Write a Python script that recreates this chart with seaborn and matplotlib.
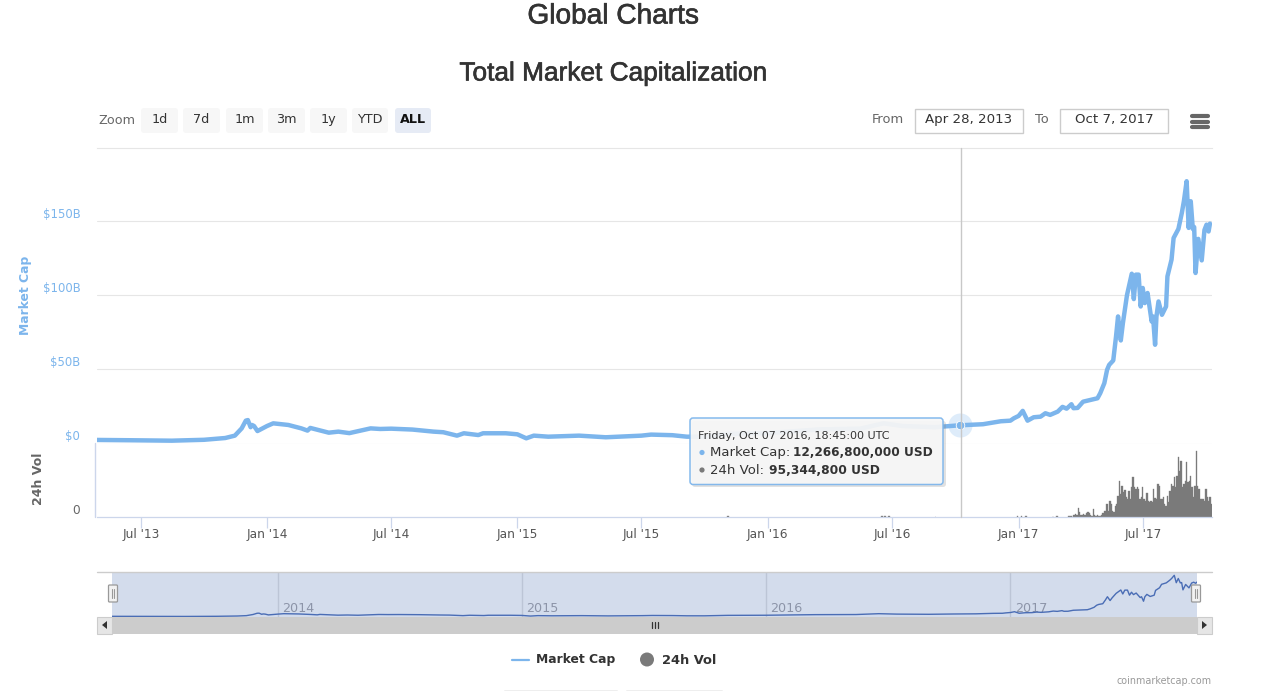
import numpy as np
import pandas as pd
import seaborn as sns
import matplotlib
matplotlib.use("Agg")
import matplotlib.pyplot as plt
import matplotlib.dates as mdates
import matplotlib.patheffects as pe
from matplotlib.patches import FancyBboxPatch, Rectangle, Circle

# ---------- data ----------
cap_dates = [
 "2013-04-28","2013-06-15","2013-08-15","2013-10-01","2013-11-01","2013-11-15","2013-11-25","2013-12-01",
 "2013-12-04","2013-12-08","2013-12-10","2013-12-13","2013-12-18","2014-01-01","2014-01-10","2014-02-01",
 "2014-02-20","2014-03-01","2014-03-05","2014-04-01","2014-04-15","2014-05-01","2014-06-01","2014-06-15",
 "2014-07-01","2014-08-01","2014-09-01","2014-09-15","2014-10-05","2014-10-15","2014-11-05","2014-11-12",
 "2014-12-15","2015-01-01","2015-01-14","2015-01-25","2015-02-15","2015-04-01","2015-05-10","2015-07-01",
 "2015-07-15","2015-08-15","2015-09-05","2015-10-01","2015-11-05","2016-01-01","2016-03-15","2016-05-15",
 "2016-06-18","2016-07-15","2016-09-01","2016-10-07","2016-11-10","2016-12-06","2016-12-20","2016-12-25",
 "2017-01-01","2017-01-07","2017-01-14","2017-01-23","2017-02-02","2017-02-09","2017-02-16","2017-02-27",
 "2017-03-06","2017-03-12","2017-03-19","2017-03-22","2017-03-28","2017-04-05","2017-04-26","2017-04-30",
 "2017-05-06","2017-05-10","2017-05-13","2017-05-19","2017-05-23","2017-05-26","2017-05-30","2017-06-02",
 "2017-06-08","2017-06-15","2017-06-18","2017-06-21","2017-06-25","2017-06-28","2017-07-01","2017-07-04",
 "2017-07-08","2017-07-14","2017-07-16","2017-07-19","2017-07-21","2017-07-24","2017-07-29","2017-08-04",
 "2017-08-06","2017-08-12","2017-08-15","2017-08-22","2017-08-27","2017-08-30","2017-09-03","2017-09-06",
 "2017-09-09","2017-09-12","2017-09-14","2017-09-16","2017-09-20","2017-09-25","2017-09-29","2017-10-02",
 "2017-10-05","2017-10-07"]
cap_values = [
 2.4,2.2,1.9,2.5,3.7,5.3,10.2,15.4,
 15.8,11.0,12.5,11.8,8.4,11.8,13.6,12.5,
 10.2,8.7,10.5,7.3,8.0,7.0,10.2,9.8,
 10.0,9.4,8.0,7.6,5.3,6.9,5.7,6.9,
 6.9,6.2,3.5,5.3,4.6,5.3,4.2,5.3,
 6.0,5.6,4.6,4.5,6.5,7.0,9.5,10.0,
 13.6,11.8,11.0,12.27,13.0,15.0,15.4,17.0,
 18.6,22.0,15.4,17.7,18.1,20.4,19.3,21.5,
 24.7,23.5,26.5,23.8,24.0,28.2,30.5,33.9,
 40.7,49.7,53.0,56.0,72.0,85.7,69.5,81.0,
 100.0,114.5,97.4,113.9,113.9,92.4,104.9,94.7,
 101.5,82.3,85.7,66.6,85.7,95.8,86.8,92.4,
 112.7,124.0,138.6,144.7,155.5,163.4,176.9,145.4,
 163.4,144.7,146.0,115.0,138.0,123.5,144.0,147.6,
 143.0,148.3]

vol_early_dates = ["2015-11-04","2016-06-16","2016-06-20","2016-06-26","2016-09-02","2016-12-30","2017-01-05","2017-01-12","2017-02-20","2017-02-26"]
vol_early_values = [0.15,0.2,0.3,0.2,0.1,0.2,0.3,0.25,0.1,0.2]
vol_values = [
 .3,.3,.2,.1,.5,.7,.5,1.9,1.0,.4,.5,.7,.4,.9,1.1,.9,.4,.3,1.7,.4,.3,.4,.3,.3,.4,.9,1.2,1.3,2.7,1.2,
 3.3,2.7,1.3,1.0,2.3,2.7,4.3,7.3,4.7,6.3,5.0,5.5,4.0,3.7,5.3,3.7,6.0,8.0,6.0,5.7,6.0,5.7,3.7,4.0,
 6.1,3.7,3.3,4.8,3.3,3.0,3.3,3.0,5.7,3.9,3.7,6.7,6.3,3.7,3.7,4.0,2.7,2.3,4.3,3.0,5.3,6.7,6.3,8.0,
 6.0,8.3,12.0,9.3,11.3,6.0,6.7,7.3,11.0,7.0,7.3,8.3,6.0,4.0,6.3,13.3,6.3,5.7,3.7,3.7,3.7,3.3,5.7,
 4.0,3.3,4.0,2.7]

cap_ticks = [0, 50, 100, 150]
cap_tick_labels = ["$0", "$50B", "$100B", "$150B"]
x_tick_dates = ["2013-07-01","2014-01-01","2014-07-01","2015-01-01","2015-07-01","2016-01-01","2016-07-01","2017-01-01","2017-07-01"]
x_tick_labels = ["Jul '13","Jan '14","Jul '14","Jan '15","Jul '15","Jan '16","Jul '16","Jan '17","Jul '17"]
nav_year_dates = ["2014-01-01","2015-01-01","2016-01-01","2017-01-01"]
nav_year_labels = ["2014","2015","2016","2017"]
range_buttons = ["1d","7d","1m","3m","1y","YTD","ALL"]
hover_date = "2016-10-07"
hover_cap = 12.2668

# ---------- setup ----------
sns.set_theme(style="white")
plt.rcParams["font.family"] = ["DejaVu Sans"]
W, H = 1280, 691
fig = plt.figure(figsize=(W/100, H/100), dpi=100, facecolor="white")

def axes_px(x0, y0, x1, y1, **kw):
    return fig.add_axes([x0/W, 1-y1/H, (x1-x0)/W, (y1-y0)/H], **kw)

BLUE = "#7cb5ec"
GREY = "#7a7a7a"
AXC = "#ccd6eb"
GRID = "#e6e6e6"

cap_df = pd.DataFrame({"date": pd.to_datetime(cap_dates), "cap": cap_values})
main_dates = pd.date_range(end="2017-10-09", periods=len(vol_values), freq="2D")
vol_df = pd.DataFrame({
    "date": list(pd.to_datetime(vol_early_dates)) + list(main_dates),
    "vol": vol_early_values + vol_values})
vol_df["num"] = mdates.date2num(vol_df["date"])
xlim = mdates.date2num(pd.to_datetime(["2013-04-28", "2017-10-10"]))
tick_nums = mdates.date2num(pd.to_datetime(x_tick_dates))

# ---------- main panel ----------
ax = axes_px(97, 148, 1212, 443.5)
sns.lineplot(data=cap_df, x="date", y="cap", ax=ax, color=BLUE, lw=3.2, estimator=None,
             errorbar=None, legend=False, solid_joinstyle="round", zorder=4)
ax.set_xlim(*xlim)
ax.set_ylim(0, 199.3)
ax.set_xticks([])
ax.set_yticks(cap_ticks, cap_tick_labels)
ax.tick_params(axis="y", length=0, pad=12, labelsize=8.4, labelcolor=BLUE)
for t in ax.get_yticklabels():
    t.set_va("bottom")
ax.grid(axis="y", color=GRID, lw=0.8)
ax.set_xlabel(""); ax.set_ylabel("")
for s in ax.spines.values():
    s.set_visible(False)
ax.spines["top"].set_visible(True)
ax.spines["top"].set_color(GRID)
ax.spines["top"].set_linewidth(0.8)
ax.patch.set_alpha(0)
hover_num = mdates.date2num(pd.to_datetime([hover_date]))
ax.scatter(hover_num, [hover_cap], s=300, color=BLUE, alpha=0.25, lw=0, zorder=5)
ax.scatter(hover_num, [hover_cap], s=38, color=BLUE, edgecolor="white", lw=0.6, zorder=6)
ax.set_axisbelow(True)

# ---------- volume panel ----------
av = axes_px(97, 443.5, 1212, 517)
sns.barplot(data=vol_df, x="num", y="vol", native_scale=True, color=GREY, width=1.0,
            errorbar=None, ax=av, saturation=1, linewidth=0.25, edgecolor=GREY)
av.set_xlim(*xlim)
av.set_ylim(0, 14.7)
av.set_xticks(tick_nums, x_tick_labels)
av.set_yticks([0], ["0"])
av.tick_params(axis="x", length=7.8, width=0.9, color=AXC, pad=0, labelsize=8.7, labelcolor="#555555", bottom=True)
av.tick_params(axis="y", length=0, pad=12.5, labelsize=8.7, labelcolor="#666666")
for t in av.get_yticklabels():
    t.set_va("bottom")
av.set_xlabel(""); av.set_ylabel("")
for s in ["top", "right", "left"]:
    av.spines[s].set_visible(False)
av.spines["bottom"].set_color(AXC)
av.spines["bottom"].set_linewidth(0.9)
av.patch.set_alpha(0)

# ---------- navigator ----------
nav = axes_px(112, 572, 1197, 617)
nav.set_facecolor("#d3dcec")
year_nums = mdates.date2num(pd.to_datetime(nav_year_dates))
sns.lineplot(data=cap_df, x="date", y="cap", ax=nav, color="#4a6db5", lw=1.0, estimator=None,
             errorbar=None, legend=False, zorder=4)
nav.set_xticks(year_nums)
nav.set_xticklabels([])
nav.tick_params(length=0)
nav.grid(axis="x", color="#bcc5d6", lw=1)
nav.set_xlim(mdates.date2num(pd.Timestamp("2013-04-28")), mdates.date2num(pd.Timestamp("2017-10-07")))
nav.set_ylim(-0.5, 191)
nav.set_yticks([])
nav.set_xlabel(""); nav.set_ylabel("")
for s in nav.spines.values():
    s.set_visible(False)
for n, lab in zip(year_nums, nav_year_labels):
    nav.annotate(lab, (n, 0), xytext=(3, 3.5), textcoords="offset points", fontsize=9.2, color="#8c94a8", zorder=3)

# ---------- overlay (page furniture, pixel coordinates) ----------
ov = fig.add_axes([0, 0, 1, 1], zorder=20)
ov.set_xlim(0, W); ov.set_ylim(H, 0); ov.axis("off"); ov.patch.set_alpha(0)

def box(x0, y0, x1, y1, fc, ec="none", r=3, lw=1, alpha=None, z=1):
    ov.add_patch(FancyBboxPatch((x0, y0), x1-x0, y1-y0, boxstyle=f"round,pad=0,rounding_size={r}",
                                fc=fc, ec=ec, lw=lw, alpha=alpha, zorder=z))

def txt(x, y, s, size=8.7, color="#333333", ha="left", va="center", weight="normal", rot=0, fam=None, z=5):
    return ov.text(x, y, s, fontsize=size, color=color, ha=ha, va=va, fontweight=weight, rotation=rot,
                   family=fam if fam else "DejaVu Sans", zorder=z)

for yy, s, size in [(16.5, "Global Charts", 20.2), (73.5, "Total Market Capitalization", 18.9)]:
    t = txt(613, yy, s, size, "#333333", ha="center", fam="Liberation Sans")
    t.set_path_effects([pe.withStroke(linewidth=0.45, foreground="#333333")])

txt(98, 120.5, "Zoom", 9.2, "#666666")
btn_x = [(141,178),(183,220),(226,263),(268,305),(310,347),(352,388),(395,431)]
for (a, b), lab in zip(btn_x, range_buttons):
    on = lab == "ALL"
    box(a, 108, b, 133, "#e6ebf5" if on else "#f7f7f7")
    txt((a+b)/2, 119.5, lab, 9.2, "#111111" if on else "#333333", ha="center", weight="bold" if on else "normal")

txt(872, 119.5, "From", 9.4, "#666666")
txt(1035, 119.5, "To", 9.4, "#666666")
for a, b, lab in [(915, 1023, "Apr 28, 2013"), (1060, 1168, "Oct 7, 2017")]:
    ov.add_patch(Rectangle((a, 108.5), b-a, 24, fc="white", ec="#cccccc", lw=1))
    txt((a+b)/2, 119.5, lab, 9.6, "#333333", ha="center")
for yy in (115.5, 121.5, 127):
    ov.plot([1192, 1208], [yy, yy], color="#666666", lw=3.0, solid_capstyle="round")

txt(26, 295, "Market Cap", 8.9, BLUE, ha="center", rot=90, weight="bold")
txt(39, 479, "24h Vol", 9.0, "#666666", ha="center", rot=90, weight="bold")
ov.plot([95, 95], [443, 517], color=AXC, lw=1)

# crosshair
ov.plot([961, 961], [148, 517], color="#c8c8c8", lw=1, zorder=0.5)

# tooltip
box(692, 421, 946, 487, "#888888", alpha=0.25, r=3, z=2)
box(690, 418, 943, 484.5, "#f7f7f7", ec=BLUE, r=3, lw=1.1, alpha=0.93, z=3)
txt(698, 436, "Friday, Oct 07 2016, 18:45:00 UTC", 8.0, "#333333")
ov.add_patch(Circle((702, 452.5), 2.6, fc=BLUE, ec="none", zorder=5))
txt(710, 452.5, "Market Cap:", 9.5, "#333333")
txt(793, 452.5, "12,266,800,000 USD", 8.7, "#333333", weight="bold")
ov.add_patch(Circle((702, 470), 2.6, fc=GREY, ec="none", zorder=5))
txt(710, 470, "24h Vol:", 9.5, "#333333")
txt(769, 470, "95,344,800 USD", 8.8, "#333333", weight="bold")

# navigator frame and scrollbar
ov.plot([97, 1212], [572, 572], color="#cccccc", lw=1)
ov.add_patch(Rectangle((112, 617), 1085, 16.5, fc="#cccccc", ec="none"))
for a, b, pts in [(97, 112, [(107, 621), (107, 629), (102, 625)]), (1197, 1212, [(1202, 621), (1202, 629), (1207, 625)])]:
    ov.add_patch(Rectangle((a, 617), b-a, 16.5, fc="#e6e6e6", ec="#cccccc", lw=0.8))
    ov.add_patch(plt.Polygon(pts, fc="#333333", ec="none"))
for xx in (651.5, 654.5, 657.5):
    ov.plot([xx, xx], [622, 628], color="#333333", lw=0.9)
for cx in (113, 1196):
    ov.add_patch(FancyBboxPatch((cx-4.5, 585), 9, 17, boxstyle="round,pad=0,rounding_size=1", fc="#f2f2f2", ec="#999999", lw=0.9, zorder=6))
    for dx in (-1.3, 1.3):
        ov.plot([cx+dx, cx+dx], [589, 598], color="#999999", lw=0.8, zorder=7)

# legend
ov.plot([512, 529], [660, 660], color=BLUE, lw=1.6)
txt(536, 660, "Market Cap", 8.9, "#333333", weight="bold")
ov.add_patch(Circle((647, 659.5), 7, fc=GREY, ec="none"))
txt(662, 660, "24h Vol", 9.4, "#333333", weight="bold")

txt(1212, 681, "coinmarketcap.com", 6.9, "#999999", ha="right")
for a, b in [(504, 617), (626, 722)]:
    ov.plot([a, b], [690.5, 690.5], color="#aaaaaa", lw=1)

fig.savefig("out.png", dpi=100)
